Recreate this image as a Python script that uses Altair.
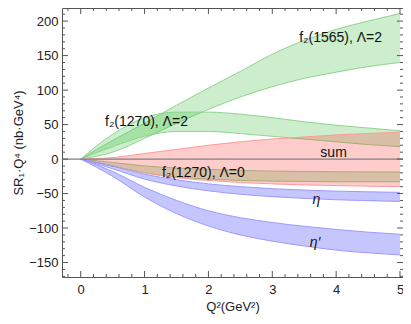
import altair as alt
import pandas as pd

# ---------------- data ----------------
q2 = [0, 0.5, 1, 1.5, 2, 2.5, 3, 3.5, 4, 4.5, 5]

f1565_hi = [0, 27, 52, 78, 103, 127, 152, 172, 188, 200, 211]
f1565_lo = [0, 10, 30, 52, 72, 90, 105, 117, 126, 134, 140]

f1270L2_hi = [0, 36, 60, 68, 68, 65, 60, 54, 49, 45, 41]
f1270L2_lo = [0, 18, 33, 40, 40, 37, 33, 29, 25, 21, 18]

f1270L0_hi = [0, -5, -10, -13, -15, -16.5, -17.5, -18, -18.5, -18.7, -18.8]
f1270L0_lo = [0, -10, -20, -26, -29, -31, -32, -32.5, -33, -33, -33]

sum_hi = [0, 2, 8, 14, 20, 25, 29, 32, 35, 37, 39]
sum_lo = [0, -10, -20, -27, -31, -34, -36, -37.5, -38.5, -39.3, -40]

eta_hi = [0, -10, -22, -30, -36, -40, -43, -45, -46.5, -47.5, -48.3]
eta_lo = [0, -14, -29, -39, -46, -51, -54.5, -57, -59, -60.3, -61.4]

etap_hi = [0, -18, -41, -60, -75, -85, -92, -97.5, -102, -106, -109]
etap_lo = [0, -25, -55, -79, -97, -110, -119, -126, -132, -136, -139]

y_major = [-150, -100, -50, 0, 50, 100, 150, 200]
y_minor = [v for v in range(-170, 211, 10) if v % 50 != 0]
x_major = [0, 1, 2, 3, 4, 5]
x_minor = [-0.2, 0.2, 0.4, 0.6, 0.8, 1.2, 1.4, 1.6, 1.8, 2.2, 2.4, 2.6, 2.8,
           3.2, 3.4, 3.6, 3.8, 4.2, 4.4, 4.6, 4.8]

labels = ["f₂(1565), Λ=2", "f₂(1270), Λ=2", "sum", "f₂(1270), Λ=0", "η", "η′"]
label_x = [4.07, 1.03, 3.96, 1.92, 3.69, 3.67]
label_y = [175, 53, 9, -20, -60, -121]
label_style = ["normal", "normal", "normal", "normal", "italic", "italic"]

# ---------------- chart ----------------
W, H = 341, 269
FONT = "Liberation Sans"
FRAME = "#555555"

X = alt.Scale(domain=[-0.293, 5.047], nice=False, zero=False)
Y = alt.Scale(domain=[-171, 219], nice=False, zero=False)
XAX = alt.Axis(values=x_major, title="Q²(GeV²)", ticks=False, tickSize=0,
               domain=False, grid=False, labelPadding=6, titlePadding=4)
YAX = alt.Axis(values=y_major, title="SR₁·Q⁴ (nb·GeV⁴)", ticks=False, tickSize=0,
               domain=False, grid=False, labelPadding=4, titlePadding=3)


def xe(field):
    return alt.X(field, type="quantitative", scale=X, axis=XAX)


def ye(field):
    return alt.Y(field, type="quantitative", scale=Y, axis=YAX)


bands = [
    (f1565_lo, f1565_hi, "#33bb33", "#8fd48f", 0.25),
    (f1270L2_lo, f1270L2_hi, "#33bb33", "#8fd48f", 0.25),
    (f1270L0_lo, f1270L0_hi, "#33bb33", "#8fd48f", 0.25),
    (sum_lo, sum_hi, "#ff3333", "#ff9a9a", 0.25),
    (eta_lo, eta_hi, "#3333ff", "#9a9aff", 0.28),
    (etap_lo, etap_hi, "#3333ff", "#9a9aff", 0.28),
]

layers = []

for lo, hi, fill, edge, op in bands:
    df = pd.DataFrame({"x": q2, "lo": lo, "hi": hi})
    base = alt.Chart(df)
    layers.append(base.mark_area(color=fill, opacity=op, interpolate="monotone").encode(
        x=xe("x"), y=ye("hi"), y2="lo:Q"))
    for col in ["hi", "lo"]:
        layers.append(base.mark_line(color=edge, strokeWidth=1, interpolate="monotone").encode(
            x=xe("x"), y=ye(col)))

# zero line
layers.append(alt.Chart(pd.DataFrame({"v": [0]})).mark_rule(color="#808080", strokeWidth=1.3).encode(
    y=ye("v")))


# inward frame ticks
def yticks(vals, length):
    d = alt.Chart(pd.DataFrame({"v": vals}))
    left = d.mark_rule(color=FRAME, strokeWidth=1).encode(
        y=ye("v"), x=alt.value(0), x2=alt.value(length))
    right = d.mark_rule(color=FRAME, strokeWidth=1).encode(
        y=ye("v"), x=alt.value(W), x2=alt.value(W - length))
    return [left, right]


def xticks(vals, length):
    d = alt.Chart(pd.DataFrame({"v": vals}))
    bottom = d.mark_rule(color=FRAME, strokeWidth=1).encode(
        x=xe("v"), y=alt.value(H), y2=alt.value(H - length))
    top = d.mark_rule(color=FRAME, strokeWidth=1).encode(
        x=xe("v"), y=alt.value(0), y2=alt.value(length))
    return [bottom, top]


layers += yticks(y_major, 6) + yticks(y_minor, 3) + xticks(x_major, 6) + xticks(x_minor, 3)

lab_df = pd.DataFrame({"x": label_x, "y": label_y, "t": labels, "s": label_style})
for style in ["normal", "italic"]:
    layers.append(alt.Chart(lab_df[lab_df.s == style]).mark_text(
        font=FONT, fontSize=14, fontStyle=style, color="#111111").encode(
        x=xe("x"), y=ye("y"), text="t:N"))

chart = alt.layer(*layers).properties(
    width=W, height=H,
    autosize=alt.AutoSizeParams(type="none"),
    padding={"left": 54, "top": 0, "right": 0, "bottom": 39},
).configure_view(stroke=FRAME, strokeWidth=1).configure_axis(
    labelFont=FONT, labelFontSize=13, labelColor="#222222",
    titleFont=FONT, titleFontSize=13, titleFontWeight="normal", titleColor="#222222",
)

chart.save("out.html", embed_options={"renderer": "svg", "actions": False})
